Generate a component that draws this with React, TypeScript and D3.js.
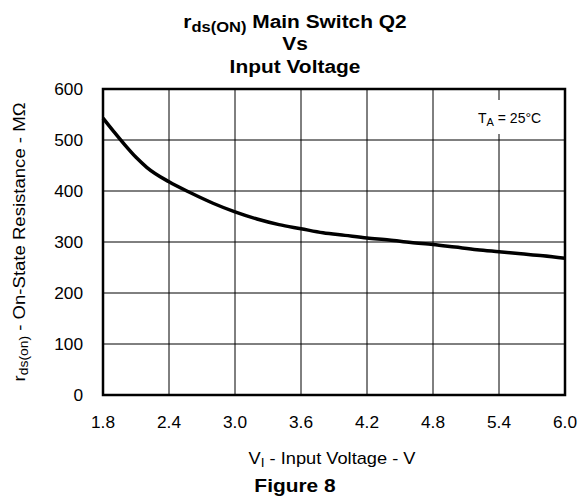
import React from "react";
import * as d3 from "d3";

const voltages = [1.8, 1.9, 2.0, 2.1, 2.2, 2.4, 2.6, 2.8, 3.0, 3.2, 3.4, 3.6, 3.8, 4.0, 4.2, 4.4, 4.6, 4.8, 5.0, 5.2, 5.4, 5.6, 5.8, 6.0];
const resistance = [543, 516, 490, 466, 446, 418, 396, 376, 359, 345, 334, 326, 318, 313, 308, 304, 299, 295, 290, 285, 281, 277, 273, 268];
const xTicks = [1.8, 2.4, 3.0, 3.6, 4.2, 4.8, 5.4, 6.0];
const yTicks = [0, 100, 200, 300, 400, 500, 600];

const W = 579;
const H = 504;
const FONT = "'Liberation Sans', Arial, Helvetica, sans-serif";

export default function App() {
  const x = d3.scaleLinear().domain([1.8, 6.0]).range([103, 565]);
  const y = d3.scaleLinear().domain([0, 600]).range([395, 89]);
  const line = d3
    .line<number>()
    .x((_, i) => x(voltages[i]))
    .y((d) => y(d))
    .curve(d3.curveMonotoneX);

  const [x0, x1] = x.range();
  const [y0, y1] = y.range();
  const titleX = 295;

  return (
    <svg
      width={W}
      height={H}
      style={{ position: "absolute", left: 0, top: 0, background: "#fff" }}
      fontFamily={FONT}
    >
      <rect x={0} y={0} width={W} height={H} fill="#fff" />
      {/* title */}
      <g transform={`translate(${titleX},27.5) scale(1.1,1)`}>
        <text x={0} y={0} textAnchor="middle" fontWeight="bold" fontSize={19}>
          <tspan>r</tspan>
          <tspan fontSize={15} dy={4.5}>ds(ON)</tspan>
          <tspan dy={-4.5}> Main Switch Q2</tspan>
        </text>
      </g>
      <g transform={`translate(${titleX},50) scale(1.1,1)`}>
        <text x={0} y={0} textAnchor="middle" fontWeight="bold" fontSize={19}>Vs</text>
      </g>
      <g transform={`translate(${titleX},72.5) scale(1.1,1)`}>
        <text x={0} y={0} textAnchor="middle" fontWeight="bold" fontSize={19}>Input Voltage</text>
      </g>

      {/* grid */}
      {xTicks.slice(1, -1).map((t) => (
        <line key={"gx" + t} x1={x(t)} x2={x(t)} y1={y1} y2={y0} stroke="#000" strokeWidth={1} />
      ))}
      {yTicks.slice(1, -1).map((t) => (
        <line key={"gy" + t} x1={x0} x2={x1} y1={y(t)} y2={y(t)} stroke="#000" strokeWidth={1} />
      ))}

      {/* T_A label with white background */}
      <rect x={474} y={100} width={70} height={34} fill="#fff" />
      <text x={478} y={123} fontSize={14}>
        <tspan>T</tspan>
        <tspan fontSize={11} dy={3}>A</tspan>
        <tspan dy={-3}> = 25°C</tspan>
      </text>

      {/* curve */}
      <path d={line(resistance) || ""} fill="none" stroke="#000" strokeWidth={3.5} strokeLinejoin="round" />

      {/* frame */}
      <rect x={x0} y={y1} width={x1 - x0} height={y0 - y1} fill="none" stroke="#000" strokeWidth={2.5} />

      {/* y tick labels */}
      {yTicks.map((t) => (
        <g key={"yt" + t} transform={`translate(83,${y(t) + 5.75}) scale(1.08,1)`}>
          <text x={0} y={0} textAnchor="end" fontSize={16}>
            {t}
          </text>
        </g>
      ))}
      {/* x tick labels */}
      {xTicks.map((t) => (
        <g key={"xt" + t} transform={`translate(${x(t)},428) scale(1.08,1)`}>
          <text x={0} y={0} textAnchor="middle" fontSize={16}>
            {t.toFixed(1)}
          </text>
        </g>
      ))}

      {/* x axis title */}
      <g transform={`translate(332,464) scale(1.14,1)`}>
        <text x={0} y={0} textAnchor="middle" fontSize={16}>
          <tspan>V</tspan>
          <tspan fontSize={12} dy={3}>I</tspan>
          <tspan dy={-3}> - Input Voltage - V</tspan>
        </text>
      </g>

      {/* y axis title */}
      <g transform={`translate(25,${(y0 + y1) / 2}) rotate(-90) scale(1.16,1)`}>
        <text x={0} y={0} textAnchor="middle" fontSize={16}>
          <tspan>r</tspan>
          <tspan fontSize={12} dy={3}>ds(on)</tspan>
          <tspan dy={-3}> - On-State Resistance - MΩ</tspan>
        </text>
      </g>

      {/* figure caption */}
      <g transform={`translate(295,492) scale(1.1,1)`}>
        <text x={0} y={0} textAnchor="middle" fontWeight="bold" fontSize={19}>Figure 8</text>
      </g>
    </svg>
  );
}
